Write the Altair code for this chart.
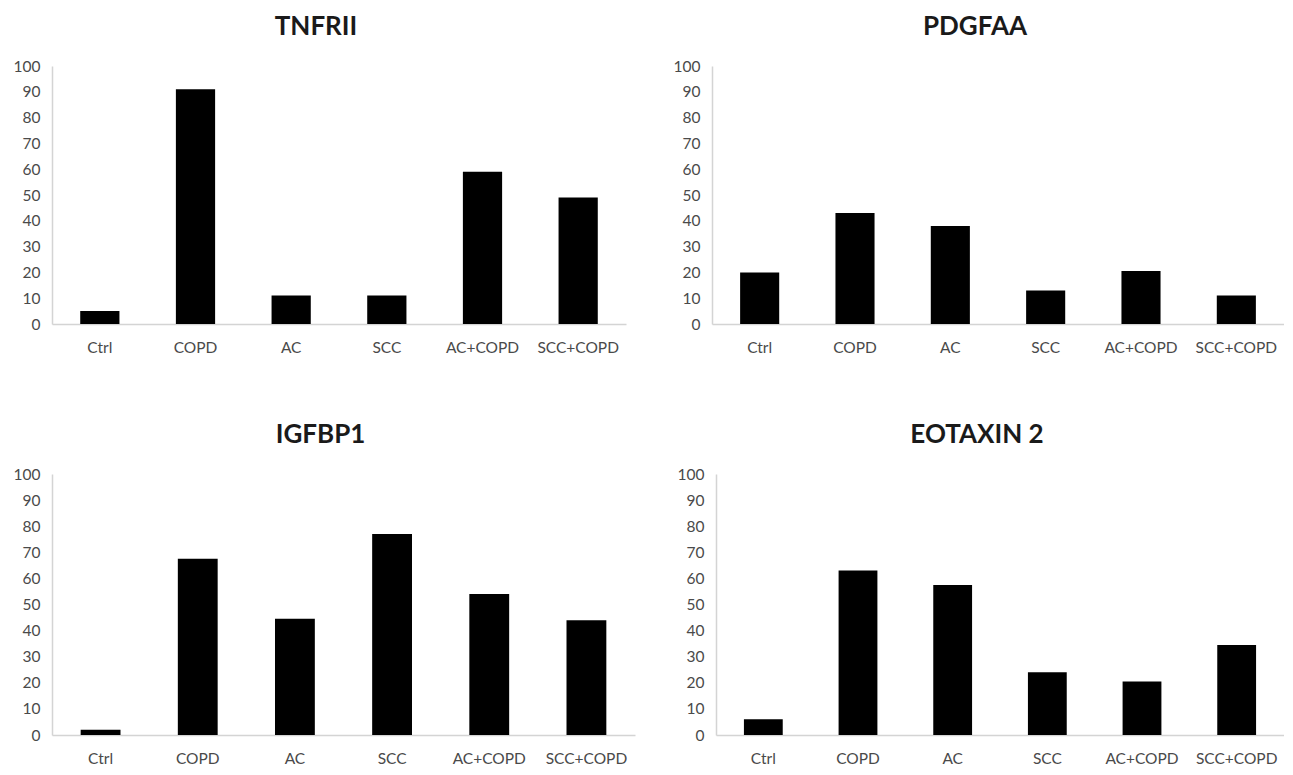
import altair as alt
import pandas as pd

categories = ["Ctrl", "COPD", "AC", "SCC", "AC+COPD", "SCC+COPD"]
tnfrii = [5, 91, 11, 11, 59, 49]
pdgfaa = [20, 43, 38, 13, 20.5, 11]
igfbp1 = [2, 67.5, 44.5, 77, 54, 44]
eotaxin2 = [6, 63, 57.5, 24, 20.5, 34.5]
y_ticks = list(range(0, 101, 10))

FONT = "Lato"
LABEL_COLOR = "#4a4a4a"
AXIS_COLOR = "#d4d4d4"


def panel(title, values, w, h):
    df = pd.DataFrame({"group": categories, "value": values})
    return alt.Chart(df).mark_bar(color="black").encode(
        x=alt.X(
            "group:N", sort=categories, title=None,
            scale=alt.Scale(paddingInner=0.59, paddingOuter=0.295),
            axis=alt.Axis(labelAngle=0, ticks=False, labelPadding=16,
                          domainColor=AXIS_COLOR, domainWidth=1.5,
                          labelFont=FONT, labelFontSize=15.5, labelColor=LABEL_COLOR),
        ),
        y=alt.Y(
            "value:Q", title=None,
            scale=alt.Scale(domain=[0, 100], nice=False),
            axis=alt.Axis(values=y_ticks, grid=False, ticks=False, labelPadding=12,
                          domainColor=AXIS_COLOR, domainWidth=1.5,
                          labelFont=FONT, labelFontSize=15.5, labelColor=LABEL_COLOR),
        ),
    ).properties(
        width=w, height=h,
        title=alt.TitleParams(title, fontSize=26, font=FONT, fontWeight="bold",
                              color="#1a1a1a", dx=-23, offset=19),
    )


row1 = alt.hconcat(panel("TNFRII", tnfrii, 574, 258),
                   panel("PDGFAA", pdgfaa, 572, 258), spacing=47)
row2 = alt.hconcat(panel("IGFBP1", igfbp1, 583, 261),
                   panel("EOTAXIN 2", eotaxin2, 568, 261), spacing=42)

chart = alt.vconcat(row1, row2, spacing=66).configure(
    padding={"left": 5, "top": 6, "right": 0, "bottom": 0}
).configure_view(stroke=None)

chart.save("out.html", embed_options={"renderer": "svg", "actions": False})
